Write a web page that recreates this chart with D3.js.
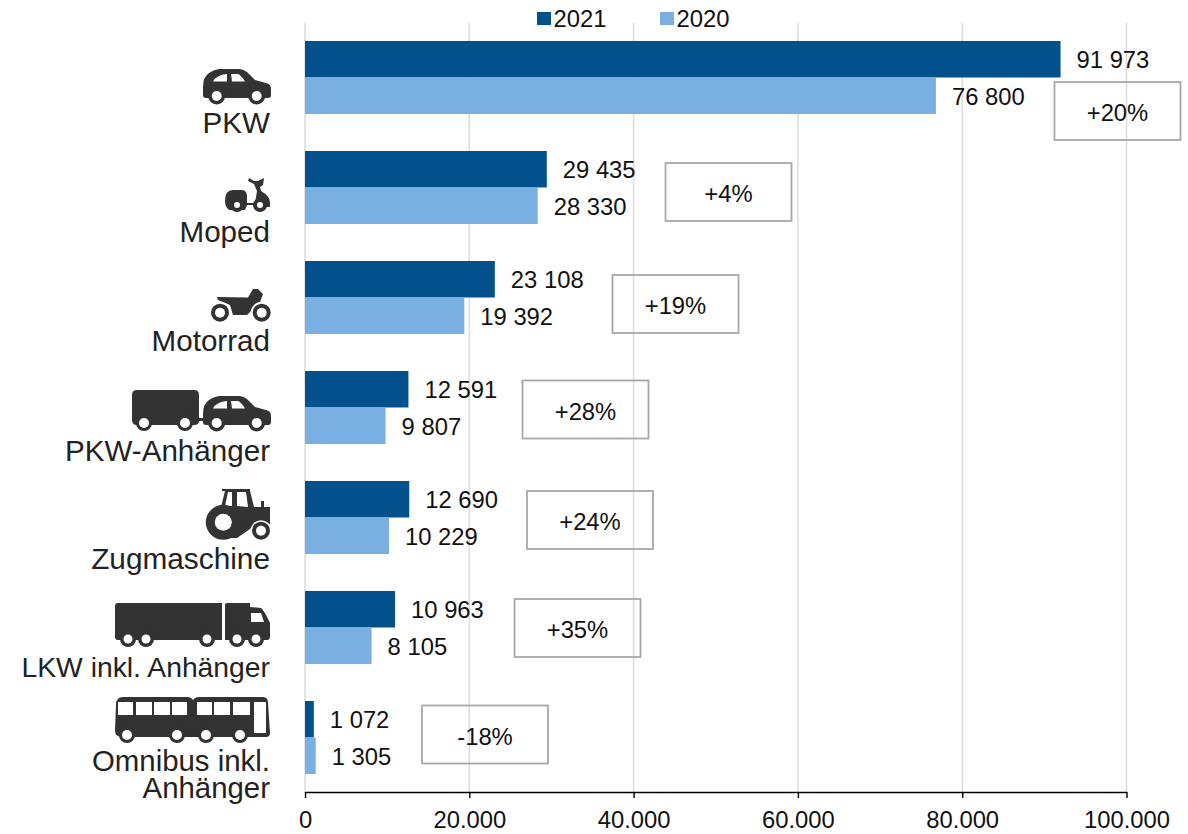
<!DOCTYPE html>
<html>
<head>
<meta charset="utf-8">
<script src="https://cdn.jsdelivr.net/npm/d3@7"></script>
<style>
    html, body { margin: 0; padding: 0; background: #fff; }
    svg { display: block; }
    text { font-family: "Liberation Sans", Arial, sans-serif; font-size: 23.8px; fill: #111; }
    .cat { fill: #222; }
</style>
</head>
<body>
<div id="chart"></div>
<script>
    const categories = ["PKW", "Moped", "Motorrad", "PKW-Anhänger", "Zugmaschine", "LKW inkl. Anhänger", "Omnibus inkl. Anhänger"];
    const series = ["2021", "2020"];
    const values2021 = [91973, 29435, 23108, 12591, 12690, 10963, 1072];
    const values2020 = [76800, 28330, 19392, 9807, 10229, 8105, 1305];
    const changes = ["+20%", "+4%", "+19%", "+28%", "+24%", "+35%", "-18%"];
    const xTicks = [0, 20000, 40000, 60000, 80000, 100000];

    // hand placed in the original, so kept apart from the values
    const boxLeft = [1054.5, 665.5, 612.5, 522.5, 527, 514.5, 422];
    const boxTop = [82, 163, 275, 380.5, 491, 599, 705.5];
    const labelLines = [["PKW"], ["Moped"], ["Motorrad"], ["PKW-Anhänger"], ["Zugmaschine"], ["LKW inkl. Anhänger"], ["Omnibus inkl.", "Anhänger"]];
    const labelBase = [133, 242, 350.5, 460.5, 568.5, 677, 771];
    const labelSize = [29.6, 29.6, 29.6, 29.6, 29.8, 28.3, 29.4];

    const width = 1188;
    const height = 834;
    const colors = { "2021": "#02508c", "2020": "#7aafe1" };
    const iconColor = "#333";

    const svg = d3.select("#chart").append("svg")
        .attr("width", width)
        .attr("height", height);

    const x = d3.scaleLinear().domain([0, 100000]).range([305, 1126.5]);
    const y = d3.scaleBand().domain(categories).range([22.5, 792.5]).paddingInner(0.336).paddingOuter(0.168);
    const y1 = d3.scaleBand().domain(series).range([0, y.bandwidth()]);

    const dotted = d3.formatLocale({ decimal: ",", thousands: ".", grouping: [3], currency: ["", ""] }).format(",d");
    const spaced = d3.formatLocale({ decimal: ",", thousands: " ", grouping: [3], currency: ["", ""] }).format(",d");

    // grid
    svg.append("g").selectAll("line")
        .data(xTicks)
        .join("line")
        .attr("x1", d => x(d))
        .attr("x2", d => x(d))
        .attr("y1", 23)
        .attr("y2", 792)
        .attr("stroke", "#dedede")
        .attr("stroke-width", 1.6);

    // bars
    const rows = categories.map((c, i) => ({ cat: c, i: i, vals: [
        { s: "2021", v: values2021[i] },
        { s: "2020", v: values2020[i] }
    ] }));

    const group = svg.append("g").selectAll("g")
        .data(rows)
        .join("g")
        .attr("transform", d => `translate(0,${y(d.cat)})`);

    group.selectAll("rect")
        .data(d => d.vals)
        .join("rect")
        .attr("x", x(0))
        .attr("y", d => y1(d.s))
        .attr("width", d => x(d.v) - x(0))
        .attr("height", y1.bandwidth())
        .attr("fill", d => colors[d.s]);

    group.selectAll("text")
        .data(d => d.vals)
        .join("text")
        .attr("x", d => x(d.v) + 16)
        .attr("y", d => y1(d.s) + y1.bandwidth() / 2 + 9)
        .text(d => spaced(d.v));

    // axis
    const axis = svg.append("g")
        .attr("transform", "translate(0,792)")
        .call(d3.axisBottom(x).tickValues(xTicks).tickFormat(dotted).tickSize(6).tickPadding(13).tickSizeOuter(0));
    axis.select(".domain").attr("stroke", "#000").attr("stroke-width", 1.4);
    axis.selectAll(".tick line").attr("stroke", "#000").attr("stroke-width", 1.4);
    axis.attr("font-size", null).attr("font-family", null);

    // change boxes
    const boxes = svg.append("g").selectAll("g")
        .data(changes)
        .join("g")
        .attr("transform", (d, i) => `translate(${boxLeft[i]},${boxTop[i]})`);
    boxes.append("rect")
        .attr("width", 126)
        .attr("height", 58)
        .attr("fill", "none")
        .attr("stroke", "#a8a8a8")
        .attr("stroke-width", 1.8);
    boxes.append("text")
        .attr("x", 63)
        .attr("y", 39)
        .attr("text-anchor", "middle")
        .text(d => d);

    // category labels
    svg.append("g").selectAll("text")
        .data(labelLines)
        .join("text")
        .attr("class", "cat")
        .attr("text-anchor", "end")
        .attr("y", (d, i) => labelBase[i])
        .style("font-size", (d, i) => labelSize[i] + "px")
        .selectAll("tspan")
        .data(d => d)
        .join("tspan")
        .attr("x", 270)
        .attr("dy", (d, i) => i ? 27 : 0)
        .text(d => d);

    // legend
    const legendX = [537, 660];
    const legend = svg.append("g").selectAll("g")
        .data(series)
        .join("g")
        .attr("transform", (d, i) => `translate(${legendX[i]},12)`);
    legend.append("rect")
        .attr("width", 14)
        .attr("height", 13)
        .attr("fill", d => colors[d]);
    legend.append("text")
        .attr("x", 16.5)
        .attr("y", 15)
        .text(d => d);

    // vehicle icons
    function icon(ox, oy) {
        return svg.append("g").attr("transform", `translate(${ox},${oy})`);
    }
    function dark(g, d) {
        g.append("path").attr("d", d).attr("fill", iconColor);
    }
    function light(g, d) {
        g.append("path").attr("d", d).attr("fill", "#fff");
    }
    function gap(g, cx, cy, r) {
        g.append("circle").attr("cx", cx).attr("cy", cy).attr("r", r).attr("fill", "#fff");
    }
    function wheel(g, cx, cy, r, inner) {
        g.append("circle").attr("cx", cx).attr("cy", cy).attr("r", r).attr("fill", iconColor);
        gap(g, cx, cy, inner);
    }
    function car(g) {
        dark(g, "M0,18 Q0,8 6,4 Q10,1 16,0 L36,0 Q40,0 44,3 L52,11 L63,14 Q68,15 68,20 L68,26 Q68,29 65,29 L3,29 Q0,29 0,26 Z");
        light(g, "M10,12.5 Q13,6 24,5 L24,12.5 Z");
        light(g, "M28,5 L35,5 Q38,6 42,12.5 L29,12.5 Z");
        wheel(g, 13.7, 27, 8.5, 5);
        wheel(g, 53.7, 27, 8.5, 5);
    }

    car(icon(203, 69));

    const moped = icon(225, 177);
    dark(moped, "M0,24 Q0,13 8,13 L17,13 Q22,13 22,20 L22,26 L30,26 L32,14 L29,7 L23,4 L24,1 L29,4 L33,4 L39,1 L38,8 L35,10 L36,14 Q45,19 45,26 L45,30 L32,30 L32,28 L22,28 L20,33 L4,33 Q0,30 0,24 Z");
    wheel(moped, 12, 28, 7, 3);
    wheel(moped, 35, 28, 7, 3);

    const motorrad = icon(212, 290);
    dark(motorrad, "M5,7 L36,7.5 L41,-1 L46,-1 L51,4 L48,12 L35,25 L21,25 L18,15 L6,10 Z");
    gap(motorrad, 8, 22.7, 11);
    gap(motorrad, 49.7, 22.7, 11);
    wheel(motorrad, 8, 22.7, 9, 5);
    wheel(motorrad, 49.7, 22.7, 9, 5);

    const trailer = icon(132, 390);
    dark(trailer, "M5,0 L62,0 Q67,0 67,5 L67,28 L72,28 L72,31 L67,31 Q67,35 62,35 L5,35 Q0,35 0,30 L0,5 Q0,0 5,0 Z");
    wheel(trailer, 12, 33, 8, 5);
    wheel(trailer, 53, 33, 8, 5);
    car(icon(203, 396));

    const tractor = icon(207, 488);
    dark(tractor, "M15,1 L43,1 L43,3 L47,19 L54,19 L54,13 L57,13 L57,19 L63,19 L63,36 L50,36 L30,50 L15,50 L5,25 L14,19 L18,3 L15,3 Z");
    light(tractor, "M21,4 L25,4 L25,18 L18,18 Z");
    light(tractor, "M30,4 L39,4 L41,19 L30,18 Z");
    wheel(tractor, 16.3, 34.3, 17.5, 8.5);
    gap(tractor, 54, 42.7, 10.5);
    wheel(tractor, 54, 42.7, 9, 5);

    const truck = icon(115, 603);
    dark(truck, "M3,0 L107,0 L107,37 L3,37 Q0,37 0,34 L0,3 Q0,0 3,0 Z");
    dark(truck, "M110,2 Q110,0 112,0 L135,0 L135,4 L146,5 Q149,7 155,20 L155,33 Q155,37 152,37 L110,37 Z");
    light(truck, "M136,10 L146,10 L149,19 L136,19 Z");
    [13, 31, 92, 122, 141].forEach(cx => wheel(truck, cx, 36, 8, 4.5));

    const bus = icon(115, 697);
    dark(bus, "M8,0 L72,0 Q76,0 78,3 Q80,0 84,0 L148,0 Q153,0 153,6 L155,36 Q155,40 151,40 L8,40 Q0,40 0,34 L1,8 Q1,0 8,0 Z");
    [[3, 18], [21, 37], [39, 55], [57, 72], [82, 97], [99, 115], [118, 135]].forEach(w => {
        light(bus, `M${w[0]},5 L${w[1]},5 L${w[1]},18 L${w[0]},18 Z`);
    });
    light(bus, "M139,5 L151,5 L151,36 L139,36 Z");
    [12, 62, 91, 125].forEach(cx => wheel(bus, cx, 38, 8, 5));
</script>
</body>
</html>
